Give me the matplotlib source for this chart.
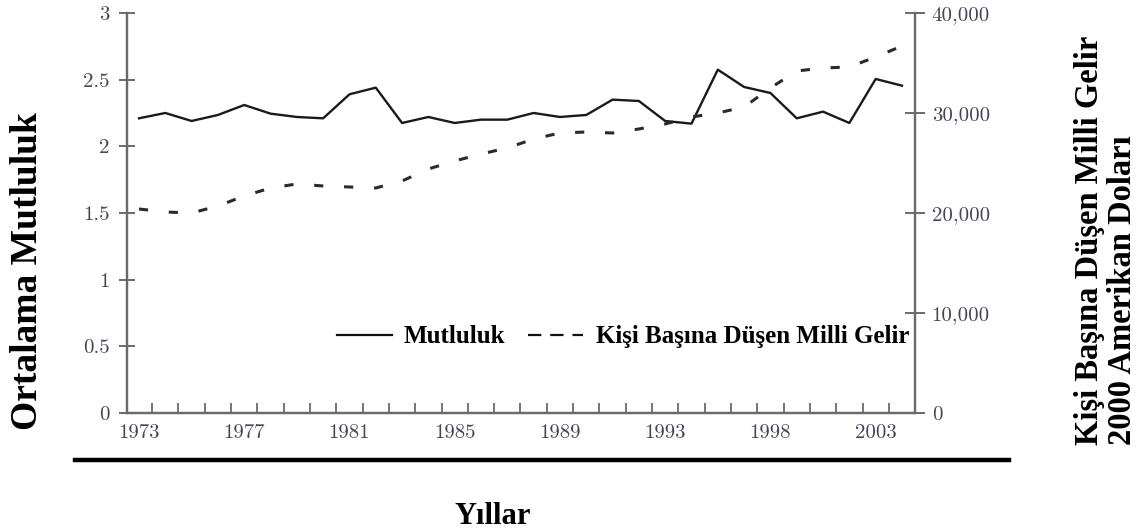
import matplotlib.pyplot as plt
from matplotlib.lines import Line2D
from matplotlib.ticker import FixedLocator, FuncFormatter

# veriler (grafikten okunan yaklasik degerler)
year_labels = ['1973', '1977', '1981', '1985', '1989', '1993', '1998', '2003']
label_idx = [0, 4, 8, 12, 16, 20, 24, 28]
happiness = [2.21, 2.25, 2.19, 2.235, 2.31, 2.245, 2.22, 2.21, 2.39, 2.44,
             2.175, 2.22, 2.175, 2.2, 2.2, 2.25, 2.22, 2.235, 2.35, 2.34,
             2.19, 2.17, 2.575, 2.445, 2.40, 2.21, 2.26, 2.175, 2.505, 2.455]
income = [20400, 20100, 20000, 20700, 21700, 22500, 22900, 22700, 22600, 22500,
          23200, 24400, 25200, 25900, 26500, 27400, 28000, 28100, 28000, 28400,
          28900, 29600, 30000, 30600, 32500, 34200, 34500, 34600, 35600, 36700]
left_ticks = [0, 0.5, 1, 1.5, 2, 2.5, 3]
right_ticks = [0, 10000, 20000, 30000, 40000]

x = list(range(len(happiness)))

tick_font = {'family': 'cmr10', 'size': 15}
bold = 'Liberation Serif'
axis_col = '#6a6a6a'
lab_col = '#45455a'

fig = plt.figure(figsize=(11.44, 5.32), dpi=100)
ax = fig.add_axes([0.111, 0.2237, 0.6888, 0.7519])
ax2 = ax.twinx()

ax.plot(x, happiness, color='#1a1a1a', lw=1.7)
ax2.plot(x, income, color='#2a2a2a', lw=2.2, linestyle=(0, (3.0, 6.8)))

ax.set_xlim(-0.456, 29.494)
ax.set_ylim(0, 3)
ax2.set_ylim(0, 40000)

for a in (ax, ax2):
    a.spines['top'].set_visible(False)
    for s in a.spines.values():
        s.set_color(axis_col)
        s.set_linewidth(1.6)

# x ekseni: etiketler noktalarda, cizgiler aralarda
ax.xaxis.set_major_locator(FixedLocator(label_idx))
ax.set_xticklabels(year_labels, fontdict=tick_font, color=lab_col)
ax.xaxis.set_minor_locator(FixedLocator([i + 0.5 for i in range(len(x) - 1)]))
ax.tick_params(axis='x', which='major', length=0, pad=8)
ax.tick_params(axis='x', which='minor', direction='in', length=7, width=1.3,
               color=axis_col)

ax.set_yticks(left_ticks)
ax.set_yticklabels([('%g' % v) for v in left_ticks], fontdict=tick_font,
                   color=lab_col)
ax.tick_params(axis='y', direction='inout', length=11, width=1.4,
               color=axis_col, pad=7)

ax2.set_yticks(right_ticks)
ax2.yaxis.set_major_formatter(FuncFormatter(lambda v, p: '{:,.0f}'.format(v)))
for t in ax2.get_yticklabels():
    t.set_fontfamily('cmr10')
    t.set_fontsize(15)
    t.set_color(lab_col)
ax2.tick_params(axis='y', direction='inout', length=14, width=1.4,
                color=axis_col, pad=5)

# legend
handles = [Line2D([], [], color='#111111', lw=1.6),
           Line2D([], [], color='#111111', lw=1.6, linestyle=(0, (6, 4)))]
ax.legend(handles, ['Mutluluk', 'Kişi Başına Düşen Milli Gelir'], ncol=2,
          loc='center left', bbox_to_anchor=(0.266, 0.19), frameon=False,
          prop={'family': bold, 'weight': 'bold', 'size': 18},
          handlelength=2.2, handletextpad=0.5, columnspacing=0.9,
          borderpad=0, borderaxespad=0)

fig.text(0.024, 0.49, 'Ortalama Mutluluk', rotation=90, ha='center',
         va='center', family=bold, weight='bold', size=27)
fig.text(0.967, 0.163, 'Kişi Başına Düşen Milli Gelir\n2000 Amerikan Doları',
         rotation=90, ha='center', va='bottom', multialignment='left',
         family=bold, weight='bold', size=23.5, linespacing=1.08)
fig.text(0.431, 0.03, 'Yıllar', ha='center', va='center', family=bold,
         weight='bold', size=22)

# alt kalin cizgi
fig.add_artist(Line2D([0.0656, 0.882], [0.1353, 0.1353], color='black',
                      lw=3.2, transform=fig.transFigure))

fig.savefig('out.png', dpi=100)
